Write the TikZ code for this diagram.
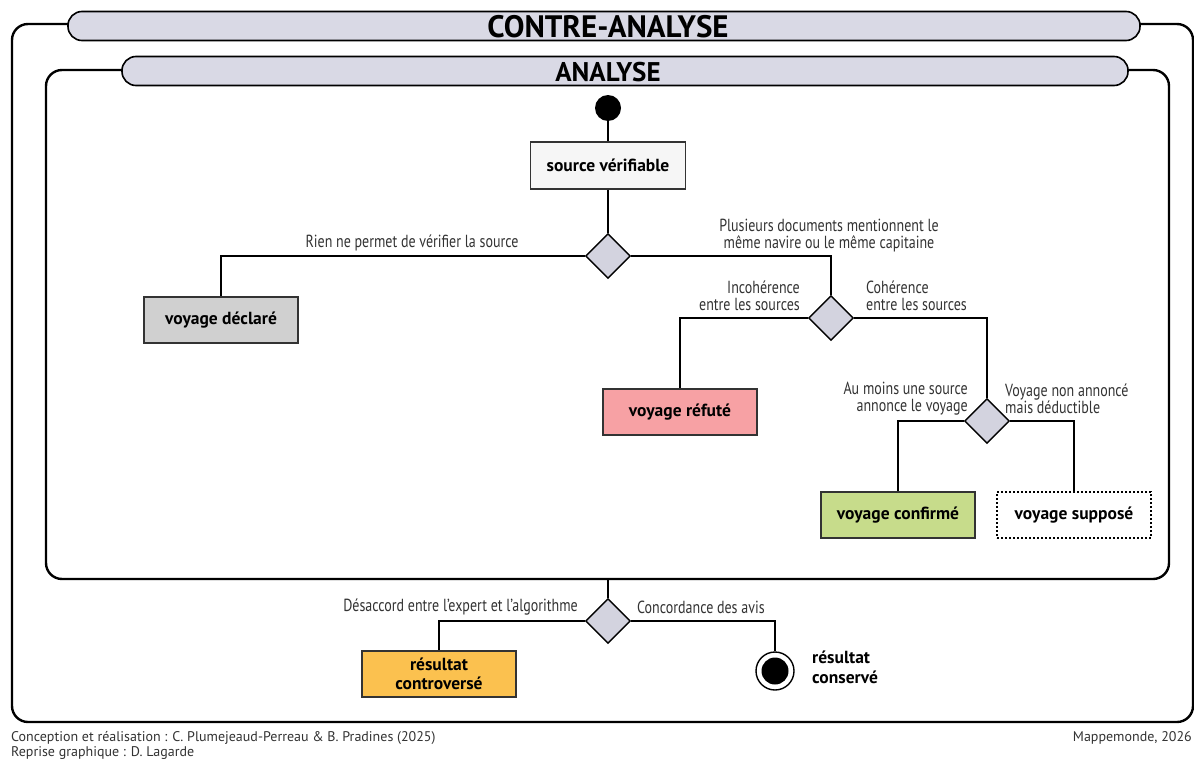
\documentclass[tikz,border=0pt]{standalone}
\usepackage{fontspec}
\setmainfont{PT Sans}
\newfontfamily\condfont[FakeStretch=0.8]{PT Sans}
\usetikzlibrary{shapes.geometric}
\definecolor{bannerfill}{HTML}{D9D9E5}
\definecolor{decfill}{HTML}{D3D3DF}
\definecolor{srcfill}{HTML}{F6F6F6}
\definecolor{declfill}{HTML}{D0D0D0}
\definecolor{refufill}{HTML}{F7A1A4}
\definecolor{conffill}{HTML}{C7DC8B}
\definecolor{controfill}{HTML}{FBC14F}
\definecolor{txtgray}{HTML}{333333}
\begin{document}
\begin{tikzpicture}[x=1pt,y=-1pt,
  conn/.style={line width=1.8pt},
  frame/.style={line width=2.4pt, rounded corners=16pt},
  banner/.style={draw, line width=1.6pt, fill=bannerfill, rounded corners=14pt, minimum height=29pt, inner sep=0},
  titlefont/.style={font=\fontsize{31}{34}\selectfont\bfseries, inner sep=0},
  boxnode/.style={draw=black!80, line width=1.4pt, minimum width=154pt, minimum height=46pt,
     font=\fontsize{17.5}{19}\selectfont\bfseries, align=center, inner sep=0},
  decnode/.style={diamond, draw, line width=1.4pt, fill=decfill, minimum width=45pt, minimum height=45pt, inner sep=0, aspect=1},
  lbl/.style={font=\condfont\fontsize{17.5}{17}\selectfont, text=txtgray, inner sep=0},
  foot/.style={font=\fontsize{14}{15}\selectfont, text=txtgray, inner sep=0},
]
\useasboundingbox (0,0) rectangle (1194,760);
\fill[white] (0,0) rectangle (1194,760);

% frames
\draw[frame] (12,24) rectangle (1193,722);
\draw[frame] (46,70) rectangle (1169,579);

% banners
\node[banner, minimum width=1072pt] (ob) at (604,26) {};
\node[titlefont] (obt) at (608,27) {CONTRE-ANALYSE};
\node[banner, minimum width=1006pt] (ib) at (625,71) {};
\node[titlefont, font=\fontsize{27}{30}\selectfont\bfseries] (ibt) at (608,72) {ANALYSE};

% nodes
\node[circle, fill=black, minimum size=26pt, inner sep=0] (start) at (608,108) {};
\node[boxnode, fill=srcfill, minimum width=155pt, minimum height=47pt] (src) at (608,165.5) {source vérifiable};
\node[decnode] (d1) at (608,256) {};
\node[boxnode, fill=declfill] (decl) at (221,320) {voyage déclaré};
\node[decnode] (d2) at (831,318) {};
\node[boxnode, fill=refufill] (refu) at (680,412) {voyage réfuté};
\node[decnode] (d3) at (987,421) {};
\node[boxnode, fill=conffill] (conf) at (898,515) {voyage confirmé};
\node[boxnode, draw=black, line width=1.2pt, dash pattern=on 2pt off 2pt, fill=white] (supp) at (1074,515) {voyage supposé};
\node[decnode] (d4) at (608,621) {};
\node[boxnode, fill=controfill] (contro) at (439,674) {résultat\\controversé};
\node[circle, draw, line width=1.4pt, fill=white, minimum size=38pt, inner sep=0,
  path picture={\fill[black] (path picture bounding box.center) circle (13.5pt);}] (fin) at (775,671) {};
\coordinate (ibot) at (608,579);

% connectors
\draw[conn] (start) -- (src);
\draw[conn] (src) -- (d1);
\draw[conn] (d1.west) -| (decl.north);
\draw[conn] (d1.east) -| (d2.north);
\draw[conn] (d2.west) -| (refu.north);
\draw[conn] (d2.east) -| (d3.north);
\draw[conn] (d3.west) -| (conf.north);
\draw[conn] (d3.east) -| (supp.north);
\draw[conn] (ibot) -- (d4.north);
\draw[conn] (d4.west) -| (contro.north);
\draw[conn] (d4.east) -| (fin.north);

% labels
\node[lbl] (l1) at (412,243) {Rien ne permet de vérifier la source};
\node[lbl, align=center] (l2) at (829,236) {Plusieurs documents mentionnent le\\même navire ou le même capitaine};
\node[lbl, align=right, anchor=east] (l3) at (800,296) {Incohérence\\entre les sources};
\node[lbl, align=left, anchor=west] (l4) at (866,296) {Cohérence\\entre les sources};
\node[lbl, align=right, anchor=east] (l5) at (968,399) {Au moins une source\\annonce le voyage};
\node[lbl, align=left, anchor=west] (l6) at (1005,399) {Voyage non annoncé\\mais déductible};
\node[lbl, anchor=east] (l7) at (578,607) {Désaccord entre l’expert et l’algorithme};
\node[lbl, anchor=west] (l8) at (637,607) {Concordance des avis};
\node[font=\fontsize{17.5}{20}\selectfont\bfseries, align=left, anchor=west, inner sep=0] (l9) at (812,667) {résultat\\conservé};

% footer
\node[foot, anchor=west] (f1) at (11,738) {Conception et réalisation : C. Plumejeaud-Perreau \& B. Pradines (2025)};
\node[foot, anchor=west] (f2) at (11,753) {Reprise graphique : D. Lagarde};
\node[foot, anchor=east] (f3) at (1192,738) {Mappemonde, 2026};
\end{tikzpicture}
\end{document}
